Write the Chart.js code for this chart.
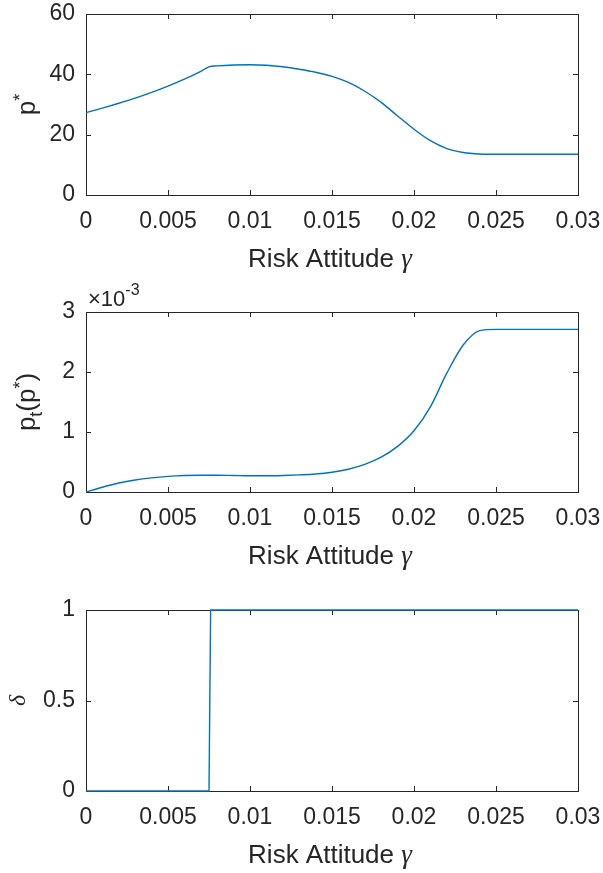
<!DOCTYPE html>
<html>
<head>
<meta charset="utf-8">
<script src="https://cdn.jsdelivr.net/npm/chart.js@4"></script>
<style>
  body { margin: 0; background: #fff; }
  #fig { position: relative; width: 603px; height: 873px; }
  #fig canvas { position: absolute; left: 0; }
</style>
</head>
<body>
<div id="fig">
  <canvas id="pricePanel" width="603" height="280" style="top:0px"></canvas>
  <canvas id="probPanel" width="603" height="298" style="top:280px"></canvas>
  <canvas id="deltaPanel" width="603" height="295" style="top:578px"></canvas>
</div>
<script>
// risk attitude grid shared by the first two panels
const gammaGrid = [0, 0.001, 0.002, 0.003, 0.004, 0.005, 0.006, 0.007, 0.0075, 0.008,
  0.009, 0.010, 0.011, 0.012, 0.013, 0.014, 0.015, 0.016, 0.017, 0.018,
  0.019, 0.020, 0.021, 0.022, 0.023, 0.024, 0.025, 0.026, 0.027, 0.028, 0.029, 0.030];

// optimal price p*
const pStar = [27.3, 28.8, 30.4, 32.1, 34.0, 36.1, 38.4, 41.0, 42.5, 42.8,
  43.1, 43.2, 43.0, 42.5, 41.7, 40.7, 39.3, 37.3, 34.4, 30.7,
  26.2, 21.8, 18.0, 15.4, 14.1, 13.6, 13.5, 13.5, 13.5, 13.5, 13.5, 13.5];

// p_t(p*), in units of 1e-3
const ptStar = [0, 0.08, 0.15, 0.20, 0.235, 0.26, 0.275, 0.28, 0.28, 0.28,
  0.275, 0.27, 0.27, 0.275, 0.285, 0.30, 0.33, 0.38, 0.46, 0.58,
  0.76, 1.02, 1.42, 1.98, 2.45, 2.69, 2.71, 2.71, 2.71, 2.71, 2.71, 2.71];

// switching indicator delta
const deltaGamma = [0, 0.0075, 0.0076, 0.030];
const deltaValues = [0, 0, 1, 1];

const xTicks = [0, 0.005, 0.01, 0.015, 0.02, 0.025, 0.03];
const xTickLabels = ['0', '0.005', '0.01', '0.015', '0.02', '0.025', '0.03'];
const priceTicks = [0, 20, 40, 60];
const priceTickLabels = ['0', '20', '40', '60'];
const probTicks = [0, 1, 2, 3];
const probTickLabels = ['0', '1', '2', '3'];
const deltaTicks = [0, 0.5, 1];
const deltaTickLabels = ['0', '0.5', '1'];

const INK = '#262626';
const BLUE = '#0072BD';
const SANS = '"Liberation Sans", Arial, sans-serif';
const SERIF = '"Liberation Serif", "DejaVu Serif", serif';

function toPoints(xs, ys) {
  return xs.map((x, i) => ({ x: x, y: ys[i] }));
}

// draws a run of text pieces with their own font and baseline shift
function drawRich(ctx, parts, x, y) {
  let total = 0;
  parts.forEach(p => { ctx.font = p.font; total += ctx.measureText(p.text).width; });
  let cx = x - total / 2;
  parts.forEach(p => {
    ctx.font = p.font;
    ctx.fillText(p.text, cx, y + (p.dy || 0));
    cx += ctx.measureText(p.text).width;
  });
}

// labels may hang over the plot box; keep the box where the padding puts it
function noOverhang(s) {
  s.paddingTop = 0;
  s.paddingBottom = 0;
  s.paddingLeft = 0;
  s.paddingRight = 0;
}

// box, inward ticks and the axis titles
function axesDecor(cfg) {
  return {
    id: 'axesDecor',
    beforeDatasetsDraw(chart) {
      const ctx = chart.ctx;
      const a = chart.chartArea;
      const xs = chart.scales.x, ys = chart.scales.y;
      ctx.save();
      ctx.strokeStyle = INK;
      ctx.lineWidth = 1;
      ctx.strokeRect(Math.round(a.left) + 0.5, Math.round(a.top) + 0.5,
        Math.round(a.right - a.left), Math.round(a.bottom - a.top));
      ctx.beginPath();
      xs.ticks.forEach(t => {
        const px = Math.round(xs.getPixelForValue(t.value)) + 0.5;
        ctx.moveTo(px, a.bottom); ctx.lineTo(px, a.bottom - 5);
        ctx.moveTo(px, a.top); ctx.lineTo(px, a.top + 5);
      });
      ys.ticks.forEach(t => {
        const py = Math.round(ys.getPixelForValue(t.value)) + 0.5;
        ctx.moveTo(a.left, py); ctx.lineTo(a.left + 5, py);
        ctx.moveTo(a.right, py); ctx.lineTo(a.right - 5, py);
      });
      ctx.stroke();
      ctx.restore();
    },
    afterDraw(chart) {
      const ctx = chart.ctx;
      const a = chart.chartArea;
      ctx.save();
      ctx.fillStyle = INK;
      ctx.textBaseline = 'alphabetic';
      drawRich(ctx, [
        { text: 'Risk Attitude ', font: '26px ' + SANS },
        { text: 'γ', font: 'italic 27px ' + SERIF }
      ], (a.left + a.right) / 2 - 2, a.bottom + 72);

      ctx.save();
      ctx.translate(cfg.yTitleX, (a.top + a.bottom) / 2);
      ctx.rotate(-Math.PI / 2);
      drawRich(ctx, cfg.yTitle, 0, 0);
      ctx.restore();

      if (cfg.exponent) {
        ctx.font = '22px ' + SANS;
        const base = '×10';
        ctx.fillText(base, a.left + 2, a.top - 6);
        const w = ctx.measureText(base).width;
        ctx.font = '16px ' + SANS;
        ctx.fillText(cfg.exponent, a.left + 2 + w, a.top - 17);
      }
      ctx.restore();
    }
  };
}

function makePanel(id, points, yMin, yMax, yTicks, yTickLabels, topPad, xAxisHeight, smooth, decor) {
  return new Chart(document.getElementById(id), {
    type: 'line',
    data: {
      datasets: [{
        data: points,
        borderColor: BLUE,
        borderWidth: 1.4,
        pointRadius: 0,
        fill: false,
        cubicInterpolationMode: smooth ? 'monotone' : 'default',
        tension: 0,
        clip: false
      }]
    },
    options: {
      responsive: false,
      animation: false,
      events: [],
      layout: { padding: { top: topPad, right: 25, left: 0, bottom: 0 } },
      plugins: { legend: { display: false }, tooltip: { enabled: false } },
      scales: {
        x: {
          type: 'linear',
          min: 0,
          max: 0.03,
          grid: { display: false, drawTicks: false },
          border: { display: false },
          afterBuildTicks: s => { s.ticks = xTicks.map(v => ({ value: v })); },
          afterFit: s => { s.height = xAxisHeight; noOverhang(s); },
          ticks: {
            padding: 13,
            maxRotation: 0,
            autoSkip: false,
            color: INK,
            font: { family: SANS, size: 23 },
            callback: (v, i) => xTickLabels[i]
          }
        },
        y: {
          min: yMin,
          max: yMax,
          grid: { display: false, drawTicks: false },
          border: { display: false },
          afterBuildTicks: s => { s.ticks = yTicks.map(v => ({ value: v })); },
          afterFit: s => { s.width = 86; noOverhang(s); },
          ticks: {
            padding: 11,
            autoSkip: false,
            color: INK,
            font: { family: SANS, size: 23 },
            callback: (v, i) => yTickLabels[i]
          }
        }
      }
    },
    plugins: [decor]
  });
}

makePanel('pricePanel', toPoints(gammaGrid, pStar), 0, 60, priceTicks, priceTickLabels, 14, 85, true,
  axesDecor({
    yTitleX: 35,
    yTitle: [
      { text: 'p', font: '26px ' + SANS },
      { text: '*', font: '18px ' + SANS, dy: -9 }
    ]
  }));

makePanel('probPanel', toPoints(gammaGrid, ptStar), 0, 3, probTicks, probTickLabels, 32, 86, true,
  axesDecor({
    yTitleX: 35,
    exponent: '-3',
    yTitle: [
      { text: 'p', font: '26px ' + SANS },
      { text: 't', font: '18px ' + SANS, dy: 7 },
      { text: '(p', font: '26px ' + SANS },
      { text: '*', font: '18px ' + SANS, dy: -9 },
      { text: ')', font: '26px ' + SANS }
    ]
  }));

makePanel('deltaPanel', toPoints(deltaGamma, deltaValues), 0, 1, deltaTicks, deltaTickLabels, 32, 82, false,
  axesDecor({
    yTitleX: 25,
    yTitle: [{ text: 'δ', font: 'italic 24px ' + SERIF }]
  }));
</script>
</body>
</html>
